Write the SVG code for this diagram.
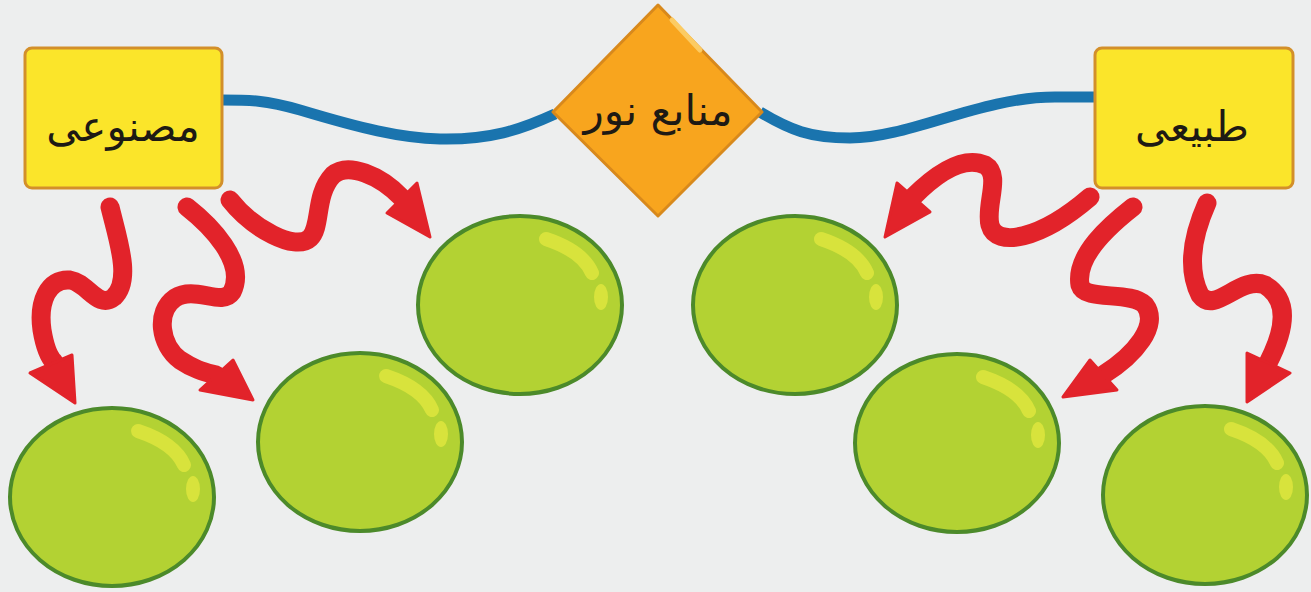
<svg xmlns="http://www.w3.org/2000/svg" xmlns:xlink="http://www.w3.org/1999/xlink" width="1311" height="592" viewBox="0 0 1311 592">
<style>
.box{fill:#FBE52A;stroke:#D38F2A;stroke-width:3}
.lbl{font-family:"DejaVu Sans",sans-serif;font-size:42px;fill:#1E1A14;text-anchor:middle;dominant-baseline:central}
.wire{fill:none;stroke:#1A74AE;stroke-width:11;stroke-linecap:butt}
.arr{fill:none;stroke:#E2232A;stroke-width:19;stroke-linecap:round;stroke-linejoin:round}
.head{fill:#E2232A;stroke:#E2232A;stroke-width:3;stroke-linejoin:round}
.ball{fill:#B3D233;stroke:#4C8A2A;stroke-width:4}
.shine{fill:none;stroke:#D8E33C;stroke-width:14;stroke-linecap:round}
</style>
<defs>
<g id="bubble">
<ellipse class="ball" cx="0" cy="0" rx="102" ry="89"/>
<path class="shine" d="M26,-66 C50,-58 66,-46 72,-32"/>
<ellipse cx="81" cy="-8" rx="7" ry="13" fill="#D8E33C"/>
</g>
</defs>
<rect width="1311" height="592" fill="#EDEEEE"/>
<g id="connectors">
<path class="wire" d="M222,100 C250,100 265,100 300,110 C360,128 400,138 440,139 C490,140 520,130 555,114"/>
<path class="wire" d="M760,112 C790,130 810,138 850,138 C910,138 980,97 1055,97 L1095,97"/>
<path class="arr" d="M110,207 C118,240 132,280 114,297 C98,310 88,283 70,280 C48,278 38,302 42,330 C45,348 50,358 54,362"/>
<polygon class="head" points="30,373 72,355 75,403"/>
<path class="arr" d="M187,207 C210,225 247,262 232,292 C222,307 195,285 175,298 C155,312 160,345 180,360 C195,370 205,372 216,375"/>
<polygon class="head" points="200,390 233,360 253,400"/>
<path class="arr" d="M230,200 C252,228 295,252 310,238 C322,226 314,195 333,175 C348,162 380,175 402,198"/>
<polygon class="head" points="387,213 417,183 430,237"/>
<path class="arr" d="M913,197 C935,175 962,155 985,165 C1002,175 985,205 990,225 C996,248 1040,240 1090,197"/>
<polygon class="head" points="897,183 930,212 885,237"/>
<path class="arr" d="M1133,207 C1110,225 1075,255 1080,285 C1085,302 1130,290 1145,305 C1160,325 1135,355 1103,375"/>
<polygon class="head" points="1090,360 1117,390 1063,397"/>
<path class="arr" d="M1207,203 C1195,230 1185,265 1200,295 C1215,315 1240,275 1265,285 C1290,300 1285,330 1268,363"/>
<polygon class="head" points="1247,353 1290,373 1247,402"/>
</g>
<g id="node-center">
<polygon points="658,5 762,112 658,216 553,112" fill="#F8A51E" stroke="#D8891C" stroke-width="3" stroke-linejoin="round"/>
<path d="M672,20 L700,50" stroke="#FCCB62" stroke-width="5" stroke-linecap="round"/>
<text class="lbl" x="658" y="110">منابع نور</text>
</g>
<g id="node-artificial">
<rect class="box" x="25" y="48" width="197" height="140" rx="7"/>
<text class="lbl" x="123" y="126">مصنوعی</text>
</g>
<g id="node-natural">
<rect class="box" x="1095" y="48" width="198" height="140" rx="7"/>
<text class="lbl" x="1192" y="126">طبیعی</text>
</g>
<g id="circle-1"><use xlink:href="#bubble" transform="translate(112,497)"/></g>
<g id="circle-2"><use xlink:href="#bubble" transform="translate(360,442)"/></g>
<g id="circle-3"><use xlink:href="#bubble" transform="translate(520,305)"/></g>
<g id="circle-4"><use xlink:href="#bubble" transform="translate(795,305)"/></g>
<g id="circle-5"><use xlink:href="#bubble" transform="translate(957,443)"/></g>
<g id="circle-6"><use xlink:href="#bubble" transform="translate(1205,495)"/></g>
</svg>
